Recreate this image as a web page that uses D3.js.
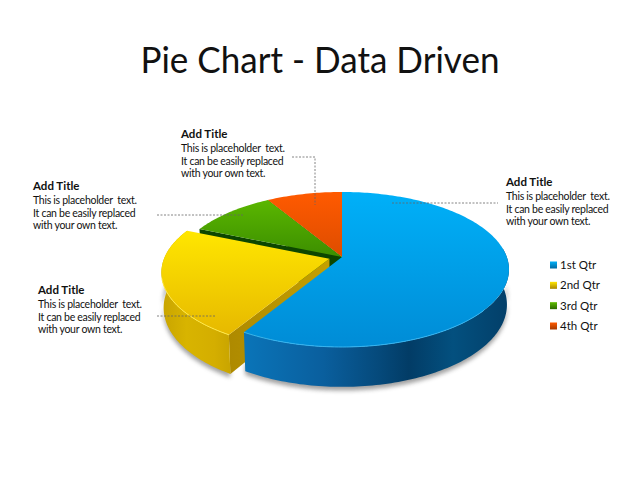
<!DOCTYPE html>
<html><head><meta charset="utf-8">
<script src="https://cdnjs.cloudflare.com/ajax/libs/d3/7.8.5/d3.min.js"></script>
<style>html,body{margin:0;padding:0;background:#fff}svg{display:block}text{font-family:Lato,"Open Sans",sans-serif;fill:#111}</style>
</head><body><svg id="c" width="640" height="480"></svg>
<script>
const categories = ["1st Qtr","2nd Qtr","3rd Qtr","4th Qtr"];
const values = [8.2,3.2,1.4,1.2];
const exploded = [0,0.08,0,0];
const titleText = "Pie Chart - Data Driven";
const noteTitle = "Add Title";
const noteLines = ["This is placeholder  text.","It can be easily replaced","with your own text."];

const topStops = [["#00b0f8","#008cd6"],["#ffe600","#e4b400"],["#5fbc00","#3a8c00"],["#ff5a00","#dc4c00"]];
const sideStops = [
 [[0,"#0a74b8"],[.3,"#0a5f9e"],[.52,"#05497a"],[.63,"#023c66"],[.8,"#03507f"],[1,"#03406a"]],
 [[0,"#c8a400"],[.35,"#d8b400"],[.75,"#d4ae00"],[1,"#c8a400"]],
 [[0,"#0c4a00"],[1,"#0c4a00"]],
 [[0,"#8a3000"],[1,"#8a3000"]]];

const svg=d3.select("#c");
const defs=svg.append("defs");
defs.append("filter").attr("id","soft").attr("x","-10%").attr("y","-10%").attr("width","120%").attr("height","120%")
  .append("feGaussianBlur").attr("stdDeviation",2.2);
defs.append("filter").attr("id","tiny").append("feGaussianBlur").attr("stdDeviation",0.35);

const cx=342, cy=257, k=0.161, sx=164.8, sy=75.5, depth=35, shrink=0.012;
function project(X,Y,z){const w=1-k*Y+shrink*z;return [cx+sx*X/w, cy+(sy*Y+depth*z)/w];}
const line=d3.line();
const arcs=d3.pie().sort(null).value(d=>d)(values);

function offset(i,a){const m=(a.startAngle+a.endAngle)/2,e=exploded[i];return [e*Math.sin(m),-e*Math.cos(m)];}
function rim(a0,a1,off,z){
  const n=Math.max(2,Math.ceil(Math.abs(a1-a0)/0.02));
  return d3.range(n+1).map(j=>{const t=a0+(a1-a0)*j/n;return project(off[0]+Math.sin(t),off[1]-Math.cos(t),z);});
}
function topPath(a,off){return line([project(off[0],off[1],0),...rim(a.startAngle,a.endAngle,off,0)])+"Z";}
function sidePath(a0,a1,off){return line([...rim(a0,a1,off,0),...rim(a1,a0,off,1)])+"Z";}
function wallPath(t,off){const c0=project(off[0],off[1],0),c1=project(off[0],off[1],1);
  const e0=project(off[0]+Math.sin(t),off[1]-Math.cos(t),0),e1=project(off[0]+Math.sin(t),off[1]-Math.cos(t),1);
  return line([c0,e0,e1,c1])+"Z";}

arcs.forEach((a,i)=>{
  const t=defs.append("linearGradient").attr("id","top"+i).attr("gradientUnits","userSpaceOnUse")
    .attr("x1",0).attr("x2",0).attr("y1",i==1?232:192).attr("y2",i==1?345:(i==0?347:260));
  t.append("stop").attr("offset",0).attr("stop-color",topStops[i][0]);
  t.append("stop").attr("offset",1).attr("stop-color",topStops[i][1]);
  const s=defs.append("linearGradient").attr("id","side"+i).attr("gradientUnits","userSpaceOnUse")
    .attr("x1",i==1?162:245).attr("x2",i==1?232:505).attr("y1",0).attr("y2",0);
  sideStops[i].forEach(p=>s.append("stop").attr("offset",p[0]).attr("stop-color",p[1]));
});
const wallGrad=defs.append("linearGradient").attr("id","wallY").attr("gradientUnits","userSpaceOnUse")
  .attr("x1",230).attr("x2",330).attr("y1",0).attr("y2",0);
wallGrad.append("stop").attr("offset",0).attr("stop-color","#ae8a00");
wallGrad.append("stop").attr("offset",1).attr("stop-color","#c4a000");

const pieG=svg.append("g");
const shadowG=pieG.append("g").attr("filter","url(#soft)").attr("fill","#555").attr("opacity",.55);
arcs.forEach((a,i)=>{
  if(i>1) return;
  const off=offset(i,a);
  const lo=i==0?Math.PI/2:a.startAngle, hi=i==0?a.endAngle:Math.PI*1.62;
  shadowG.append("path").attr("d",line(rim(lo,hi,[off[0],off[1]+.012],1.06).concat(rim(hi,lo,off,.8)))+"Z");
});
[3,2].forEach(i=>{
  const a=arcs[i],off=offset(i,a);
  pieG.append("path").attr("d",wallPath(a.startAngle,off)).attr("fill","#0c4600");
});
[3,2].forEach(i=>{
  const a=arcs[i],off=offset(i,a);
  pieG.append("path").attr("d",topPath(a,off)).attr("fill",`url(#top${i})`);
});
[1,0].forEach(i=>{
  const a=arcs[i],off=offset(i,a);
  if(i==1) pieG.append("path").attr("d",wallPath(a.startAngle,off)).attr("fill","url(#wallY)");
  const lo=i==0?Math.PI/2-0.12:a.startAngle, hi=a.endAngle;
  pieG.append("path").attr("d",sidePath(lo,hi,off)).attr("fill",`url(#side${i})`);
  pieG.append("path").attr("d",topPath(a,off)).attr("fill",`url(#top${i})`);
  pieG.append("path").attr("d",line(rim(i==0?Math.PI*.72:a.startAngle,i==0?a.endAngle:Math.PI*1.42,off,0)))
    .attr("fill","none").attr("stroke",i==0?"#35b4f0":"#ffe94a").attr("stroke-width",1).attr("filter","url(#tiny)");
});

svg.append("text").attr("x",320).attr("y",73).attr("text-anchor","middle").attr("font-size",36)
  .attr("textLength",359).attr("lengthAdjust","spacingAndGlyphs").text(titleText);

function note(x,y){
  svg.append("text").attr("x",x).attr("y",y).attr("font-size",11.5).attr("font-weight",700).text(noteTitle);
  noteLines.forEach((l,i)=>svg.append("text").attr("x",x).attr("y",y+14+i*12.6).attr("font-size",10.5).attr("letter-spacing",-0.28).attr("xml:space","preserve").text(l));
}
note(181,138); note(33,190); note(38,294); note(506,186);
const leaders=[[[292,157],[315,157],[315,205]],[[157,215],[243,215]],[[157,316],[215,316]],[[392,203],[498,203]]];
leaders.forEach(p=>svg.append("path").attr("d",line(p)).attr("fill","none").attr("stroke","#666").attr("stroke-width",.8).attr("stroke-dasharray","2 1.5"));

const legendY=d3.scalePoint().domain(categories).range([265,326]);
categories.forEach((c,i)=>{
  const y=legendY(c);
  const g=defs.append("linearGradient").attr("id","leg"+i).attr("x1",0).attr("x2",0).attr("y1",0).attr("y2",1);
  g.append("stop").attr("offset",0).attr("stop-color",topStops[i][0]);
  g.append("stop").attr("offset",1).attr("stop-color",d3.color(topStops[i][1]).darker(.8));
  svg.append("rect").attr("x",550).attr("y",y-3.5).attr("width",7).attr("height",7).attr("fill",`url(#leg${i})`);
  svg.append("text").attr("x",560).attr("y",y+4).attr("font-size",11.5).text(c);
});
</script></body></html>
